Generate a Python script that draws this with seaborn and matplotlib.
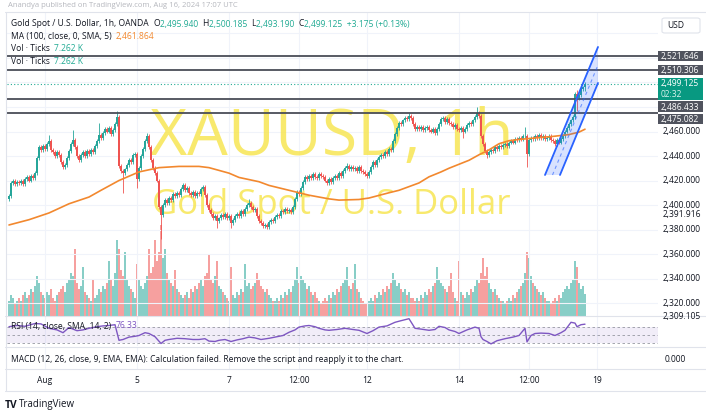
import matplotlib
matplotlib.use("Agg")
import matplotlib.pyplot as plt
import matplotlib.transforms as mtrans
from matplotlib.patches import Polygon, FancyBboxPatch, Rectangle
from matplotlib.text import Annotation
from matplotlib.lines import Line2D
import numpy as np
import seaborn as sns

W, H = 706, 412

# ---------------- data: XAUUSD hourly, one list per session ----------------
jul31_close = [2407, 2418, 2420, 2417, 2419, 2418, 2420, 2417, 2421, 2423, 2420, 2424,
               2422, 2426, 2438, 2447, 2445, 2448]
aug01_close = [2446, 2450, 2452, 2445, 2443, 2440, 2443, 2441, 2435, 2431, 2433, 2438,
               2444, 2450, 2453, 2447, 2440, 2437, 2441, 2443, 2440, 2444, 2442]
aug02_close = [2445, 2443, 2448, 2452, 2457, 2455, 2459, 2462, 2460, 2463, 2458, 2461,
               2466, 2472, 2432, 2428, 2426, 2429, 2433, 2437, 2435, 2441, 2442]
aug05_close = [2421, 2430, 2440, 2446, 2452, 2456, 2447, 2437, 2430, 2426, 2420, 2398,
               2392, 2400, 2404, 2402, 2406, 2404, 2409, 2407, 2410, 2408, 2413]
aug06_close = [2416, 2412, 2414, 2410, 2408, 2411, 2407, 2410, 2409, 2413, 2415, 2408,
               2400, 2396, 2393, 2389, 2391, 2387, 2389, 2392, 2390, 2393, 2389]
aug07_close = [2391, 2385, 2388, 2391, 2393, 2391, 2395, 2393, 2397, 2400, 2402, 2398,
               2396, 2397, 2391, 2387, 2385, 2383, 2384, 2382, 2386, 2388, 2387]
aug08_close = [2390, 2392, 2391, 2395, 2394, 2397, 2395, 2396, 2394, 2398, 2405, 2411,
               2409, 2414, 2419, 2423, 2421, 2424, 2422, 2425, 2423, 2422, 2425]
aug09_close = [2424, 2423, 2420, 2418, 2421, 2419, 2422, 2424, 2422, 2426, 2424, 2428,
               2430, 2432, 2429, 2431, 2429, 2430, 2428, 2431, 2428, 2427, 2425]
aug12_close = [2424, 2427, 2431, 2435, 2433, 2437, 2439, 2441, 2440, 2443, 2442, 2446,
               2445, 2452, 2458, 2463, 2467, 2466, 2469, 2471, 2470, 2473, 2471]
aug13_close = [2466, 2462, 2464, 2462, 2464, 2461, 2463, 2464, 2461, 2460, 2462, 2459,
               2462, 2466, 2470, 2471, 2468, 2470, 2467, 2466, 2464, 2465, 2462]
aug14_close = [2461, 2463, 2460, 2462, 2465, 2467, 2466, 2469, 2472, 2475, 2473, 2456,
               2450, 2444, 2441, 2443, 2445, 2444, 2447, 2446, 2448, 2447, 2449]
aug15_close = [2450, 2448, 2451, 2452, 2451, 2454, 2453, 2455, 2454, 2456, 2456, 2442,
               2453, 2455, 2454, 2456, 2455, 2457, 2455, 2456, 2454, 2455, 2456]
aug16_close = [2453, 2452, 2450, 2453, 2451, 2454, 2456, 2460, 2463, 2466, 2469, 2472,
               2491, 2487, 2490, 2495, 2495.94, 2499.125]
first_open = 2405.0

# notable wick extremes (bar index -> price)
high_marks = {20: 2457, 32: 2461, 45: 2467, 54: 2477, 69: 2459, 120: 2405, 169: 2434,
              200: 2475, 234: 2480, 258: 2464, 284: 2494, 288: 2500.185}
low_marks = {0: 2403, 57: 2410, 64: 2414, 76: 2372, 104: 2381, 111: 2381, 227: 2455,
             239: 2438, 259: 2431, 284: 2477, 288: 2493.19}

# volume (K ticks) per session
jul31_vol = [5, 7, 6, 4, 5, 6, 5, 7, 8, 6, 7, 9, 8, 10, 13, 11, 8, 7]
aug01_vol = [6, 8, 7, 9, 6, 5, 7, 8, 9, 10, 8, 11, 12, 14, 13, 22, 11, 9, 10, 16, 8, 7, 6]
aug02_vol = [5, 12, 6, 7, 9, 8, 10, 9, 11, 18, 12, 10, 14, 25, 22, 15, 13, 21, 12, 10, 9, 8, 6]
aug05_vol = [17, 12, 10, 9, 11, 13, 22, 14, 16, 25, 18, 21, 30, 19, 22, 14, 12, 11, 10, 15, 9, 8, 7]
aug06_vol = [6, 7, 8, 6, 9, 8, 10, 9, 11, 12, 10, 13, 14, 20, 12, 11, 13, 18, 10, 9, 8, 7, 6]
aug07_vol = [5, 16, 7, 6, 8, 7, 9, 8, 17, 10, 11, 9, 10, 11, 14, 12, 10, 9, 8, 9, 7, 6, 5]
aug08_vol = [5, 6, 5, 7, 6, 8, 7, 9, 8, 10, 12, 16, 11, 13, 12, 11, 9, 10, 8, 7, 8, 6, 5]
aug09_vol = [4, 5, 6, 5, 7, 6, 8, 7, 9, 8, 10, 11, 12, 16, 10, 9, 11, 17, 9, 8, 6, 5, 4]
aug12_vol = [4, 5, 6, 5, 7, 6, 8, 7, 9, 8, 10, 9, 11, 14, 12, 10, 11, 9, 8, 9, 7, 8, 6]
aug13_vol = [6, 5, 6, 5, 7, 6, 8, 7, 9, 8, 10, 11, 16, 12, 11, 10, 9, 8, 10, 14, 8, 6, 5]
aug14_vol = [18, 8, 7, 6, 8, 7, 9, 8, 10, 12, 11, 14, 19, 13, 16, 11, 9, 8, 9, 7, 6, 5, 5]
aug15_vol = [4, 5, 6, 5, 7, 6, 8, 9, 10, 11, 14, 21, 19, 13, 11, 10, 9, 8, 7, 8, 6, 5, 5]
aug16_vol = [4, 5, 6, 5, 7, 6, 8, 9, 10, 9, 11, 12, 18, 16, 11, 9, 10, 7.262]

# MA(100) readings
ma_bar = [0, 10, 20, 30, 40, 46, 55, 65, 75, 85, 95, 100, 110, 115, 125, 130, 140, 150,
          160, 165, 175, 180, 190, 195, 205, 210, 216, 220, 230, 235, 240, 245, 250, 255,
          265, 272, 280, 285, 288]
ma_value = [2383.7, 2388, 2393.5, 2401, 2406.5, 2412, 2420, 2427, 2430.5, 2431.5, 2431.5,
            2430.5, 2426, 2422.5, 2419, 2416, 2412, 2408, 2405, 2404, 2404.5, 2405.7, 2410,
            2412, 2418, 2423, 2427, 2430, 2436.5, 2441, 2445, 2450, 2452.5, 2453.5, 2455,
            2456, 2457.5, 2459.5, 2461.864]

# RSI(14) readings
rsi_bar = [0, 4, 8, 13, 16, 20, 24, 27, 30, 34, 37, 40, 44, 47, 50, 53, 55, 57, 60, 63,
           65, 68, 70, 73, 76, 78, 80, 84, 88, 92, 95, 98, 100, 103, 105, 108, 111, 114,
           117, 120, 123, 126, 130, 134, 137, 140, 143, 145, 148, 150, 153, 155, 158, 160,
           164, 168, 172, 175, 179, 182, 185, 189, 193, 196, 200, 203, 206, 210, 213, 215,
           218, 220, 223, 225, 229, 233, 235, 236, 237, 239, 241, 244, 248, 252, 255, 258,
           259, 261, 263, 266, 270, 273, 276, 278, 281, 283, 284, 286, 288]
rsi_value = [70, 73, 71, 78, 77, 66, 62, 55, 68, 60, 62, 66, 70, 72, 73, 75, 36, 38, 44, 46,
             48, 55, 53, 45, 28, 36, 38, 41, 40, 38, 38, 40, 34, 33, 36, 38, 33, 37,
             40, 44, 42, 38, 41, 45, 48, 56, 62, 69, 72, 73, 70, 66, 62, 61,
             63, 66, 63, 61, 53, 60, 69, 72, 81, 85, 90, 66, 64, 61, 63, 71,
             68, 62, 58, 53, 62, 69, 66, 45, 38, 33, 27, 35, 40, 44, 48, 66,
             32, 48, 53, 54, 53, 48, 55, 61, 81, 79, 70, 75, 76.33]

levels = [2521.646, 2510.306, 2486.433, 2475.082]
last_price = 2499.125
price_ticks = [2460, 2440, 2420, 2400, 2380, 2360, 2340, 2320]
extra_price_labels = [2391.916, 2309.105]
time_labels = ["Aug", "5", "7", "12:00", "12", "14", "12:00", "19"]
time_label_bars = [18, 64, 110, 145, 179, 225, 260, 294]

# ascending channel anchors (bar, price)
channel_upper = [(268, 2424.5), (294.5, 2529.0)]
channel_lower = [(275.5, 2424.5), (294.5, 2499.6)]

# ---------------- assemble OHLC ----------------
closes = np.array(jul31_close + aug01_close + aug02_close + aug05_close + aug06_close +
                  aug07_close + aug08_close + aug09_close + aug12_close + aug13_close +
                  aug14_close + aug15_close + aug16_close, dtype=float)
volume = np.array(jul31_vol + aug01_vol + aug02_vol + aug05_vol + aug06_vol + aug07_vol +
                  aug08_vol + aug09_vol + aug12_vol + aug13_vol + aug14_vol + aug15_vol +
                  aug16_vol, dtype=float)
opens = np.r_[first_open, closes[:-1]]
bars = np.arange(len(closes))
WICK = 1.6
highs = np.maximum(opens, closes) + WICK
lows = np.minimum(opens, closes) - WICK
for k, v in high_marks.items():
    highs[k] = max(highs[k], v)
for k, v in low_marks.items():
    lows[k] = min(lows[k], v)

# ---------------- style ----------------
sns.set_theme(style="white")
plt.rcParams["font.family"] = ["Open Sans", "DejaVu Sans"]

GREEN = "#26a69a"
RED = "#ef5350"
TEXT = "#131722"
GRID = "#f0f3fa"
BORDER = "#e0e3eb"
TXT_GREEN = "#22ab94"

fig = plt.figure(figsize=(W / 100, H / 100), dpi=100)
fig.patch.set_facecolor("white")


def rect(x0, y0, x1, y1):
    return [x0 / W, 1 - y1 / H, (x1 - x0) / W, (y1 - y0) / H]


def fx(x):
    return x / W


def fy(y):
    return 1 - y / H


PL, PR = 7, 658
XMIN, XMAX = -1, 324.5

# volume pane (behind), price pane (on top, transparent)
axv = fig.add_axes(rect(PL, 12, PR, 316))
ax = fig.add_axes(rect(PL, 12, PR, 316), sharex=axv)
for a in (axv, ax):
    a.set_axis_off()
ax.set_xlim(XMIN, XMAX)
ax.set_ylim(2309.39, 2557.55)
axv.set_ylim(0, 100)

up = closes >= opens
cols = np.where(up, GREEN, RED)
vol_cols = [(0.149, 0.651, 0.604, 0.55) if u else (0.937, 0.325, 0.314, 0.55) for u in up]
axv.bar(bars, volume, width=0.55, color=vol_cols, linewidth=0)

# grid
for p in range(2320, 2560, 20):
    ax.axhline(p, color=GRID, lw=0.8, zorder=0.2)
for b in time_label_bars:
    ax.axvline(b, color=GRID, lw=0.8, zorder=0.2)

# watermark


def fit_size(s, width_px, size0=20.0, **kw):
    t = fig.text(0, 0, s, fontsize=size0, **kw)
    w = t.get_window_extent(renderer=fig.canvas.get_renderer()).width
    t.remove()
    return size0 * width_px / w


WM = "#f7e654"
s1 = fit_size("XAUUSD, 1h", 363)
ax.text(fx(150), fy(155), "XAUUSD, 1h", transform=fig.transFigure, fontsize=s1,
        color=WM, alpha=0.85, ha="left", va="baseline", zorder=0.5)
s2 = fit_size("Gold Spot / U.S. Dollar", 358)
ax.text(fx(152), fy(214), "Gold Spot / U.S. Dollar", transform=fig.transFigure,
        fontsize=s2, color=WM, alpha=0.85, ha="left", va="baseline", zorder=0.5)

# candles
ax.vlines(bars, lows, highs, colors=cols, lw=0.6, zorder=3)
ax.bar(bars, np.maximum(np.abs(closes - opens), 0.5), bottom=np.minimum(opens, closes),
       width=0.72, color=cols, linewidth=0, zorder=4)

# moving average
sns.lineplot(x=ma_bar, y=ma_value, ax=ax, color="#f2882e", lw=1.2, zorder=5)
ax.set_axis_off()

# horizontal levels and last price
for lv in levels:
    ax.axhline(lv, color="#4a4d57", lw=1.3, zorder=6)
ax.axhline(last_price, color=TXT_GREEN, lw=0.8, ls=(0, (1, 2)), zorder=6)

# channel
cu0, cu1 = channel_upper
cl0, cl1 = channel_lower
ax.add_patch(Polygon([cu0, cu1, cl1, cl0], closed=True, fc="#2962ff", alpha=0.18,
                     ec="none", zorder=6))
ax.plot([cu0[0], cu1[0]], [cu0[1], cu1[1]], color="#2962ff", lw=1.3, zorder=7)
ax.plot([cl0[0], cl1[0]], [cl0[1], cl1[1]], color="#2962ff", lw=1.3, zorder=7)
ax.plot([(cu0[0] + cl0[0]) / 2, (cu1[0] + cl1[0]) / 2],
        [(cu0[1] + cl0[1]) / 2, (cu1[1] + cl1[1]) / 2],
        color="#2962ff", lw=0.8, ls=(0, (3, 3)), alpha=0.6, zorder=7)

# ---------------- RSI pane ----------------
axr = fig.add_axes(rect(PL, 316, PR, 346), sharex=axv)
axr.set_axis_off()
axr.set_ylim(21.75, 96.75)
axr.axhspan(30, 70, color="#7e57c2", alpha=0.1, lw=0)
for lv in (70, 50, 30):
    axr.axhline(lv, color="#9598a1", lw=0.6, ls=(0, (3, 3)))
for b in time_label_bars:
    axr.axvline(b, color=GRID, lw=0.8, zorder=0.2)
sns.lineplot(x=rsi_bar, y=rsi_value, ax=axr, color="#7e57c2", lw=1.0)
axr.set_axis_off()
axr.set_xlim(XMIN, XMAX)

# ---------------- MACD pane ----------------
axm = fig.add_axes(rect(PL, 347, PR, 369), sharex=axv)
axm.set_axis_off()
for b in time_label_bars:
    axm.axvline(b, color=GRID, lw=0.8, zorder=0.2)
axm.set_xlim(XMIN, XMAX)

# ---------------- frame lines ----------------
for y in (316, 347, 369, 391):
    fig.add_artist(Line2D([fx(5), 1], [fy(y), fy(y)], color=BORDER, lw=0.8))
fig.add_artist(Line2D([fx(5), 1], [fy(12), fy(12)], color=BORDER, lw=0.8))
fig.add_artist(Line2D([fx(5.5), fx(5.5)], [fy(12), fy(391)], color=BORDER, lw=0.8))

# ---------------- text ----------------
FS = fit_size("Gold Spot / U.S. Dollar, 1h, OANDA", 137)


def row(x, y, parts, size=FS):
    s, c = parts[0]
    t = fig.text(fx(x), fy(y), s, color=c, fontsize=size, ha="left", va="center")
    for s, c in parts[1:]:
        t = fig.add_artist(Annotation(s, xy=(1, 0.5), xycoords=t, color=c, fontsize=size,
                                      ha="left", va="center"))
    return t


fig.text(fx(8), fy(5.5), "Anandya published on TradingView.com, Aug 16, 2024 17:07 UTC",
         color="#9598a1", fontsize=FS * 0.9, ha="left", va="center", alpha=0.7)

row(11, 24, [("Gold Spot / U.S. Dollar, 1h, OANDA  ", TEXT), ("O", TEXT),
             ("2,495.940  ", TXT_GREEN), ("H", TEXT), ("2,500.185  ", TXT_GREEN),
             ("L", TEXT), ("2,493.190  ", TXT_GREEN), ("C", TEXT),
             ("2,499.125  +3.175 (+0.13%)", TXT_GREEN)])
row(11, 36.5, [("MA (100, close, 0, SMA, 5)  ", TEXT), ("2,461.864", "#f2882e")])
row(11, 48.5, [("Vol · Ticks  ", TEXT), ("7.262 K", TXT_GREEN)])
row(11, 61, [("Vol · Ticks  ", TEXT), ("7.262 K", TXT_GREEN)])
row(11, 326, [("RSI (14, close, SMA, 14, 2)  ", TEXT), ("76.33", "#7e57c2")])
row(11, 360, [("MACD (12, 26, close, 9, EMA, EMA): Calculation failed. Remove the script "
               "and reapply it to the chart.", TEXT)])
fig.text(fx(665), fy(360), "0.000", color=TEXT, fontsize=FS, ha="left", va="center")

# USD badge
fig.add_artist(FancyBboxPatch((fx(662), fy(33)), (700 - 662) / W, 15 / H,
                              boxstyle="round,pad=0,rounding_size=0.004",
                              transform=fig.transFigure, fc="white", ec=BORDER, lw=0.8))
fig.text(fx(667), fy(25.7), "USD", color=TEXT, fontsize=FS, ha="left", va="center")

# price scale labels
ptrans = mtrans.blended_transform_factory(fig.transFigure, ax.transData)
for p in price_ticks + extra_price_labels:
    fig.text(fx(663), p, f"{p:,.3f}", transform=ptrans, color=TEXT, fontsize=FS,
             ha="left", va="center")


def ypix(p):
    return H - ax.transData.transform((0, p))[1]


# boxed labels with simple collision push-down
boxes = [(lv, "#50535e", 10.7) for lv in levels[:2]] + [(last_price, "#089981", 21.7)] + \
        [(lv, "#50535e", 10.7) for lv in levels[2:]]
prev_bottom = -1e9
for p, color, hgt in boxes:
    yc = ypix(p)
    top = yc - 5.35
    if top < prev_bottom + 1.5:
        top = prev_bottom + 1.5
    bottom = top + hgt
    fig.add_artist(Rectangle((fx(658), fy(bottom)), (703 - 658) / W, hgt / H,
                             transform=fig.transFigure, fc=color, ec="none"))
    fig.text(fx(661), fy(top + 5.6), f"{p:,.3f}", color="white", fontsize=FS,
             ha="left", va="center")
    if hgt > 15:
        fig.text(fx(661), fy(top + 16.3), "02:32", color="#d6f2ec", fontsize=FS,
                 ha="left", va="center")
    prev_bottom = bottom

# time axis labels
ttrans = mtrans.blended_transform_factory(ax.transData, fig.transFigure)
for b, lab in zip(time_label_bars, time_labels):
    fig.text(b, fy(380.5), lab, transform=ttrans, color=TEXT, fontsize=FS,
             ha="center", va="center")

# branding
fig.text(fx(5), fy(405), "TV", color=TEXT, fontsize=FS * 1.2, fontweight="bold",
         ha="left", va="center")
fig.text(fx(19), fy(405), "TradingView", color=TEXT, fontsize=FS * 1.15,
         ha="left", va="center")

fig.savefig("out.png", dpi=100, facecolor="white")
